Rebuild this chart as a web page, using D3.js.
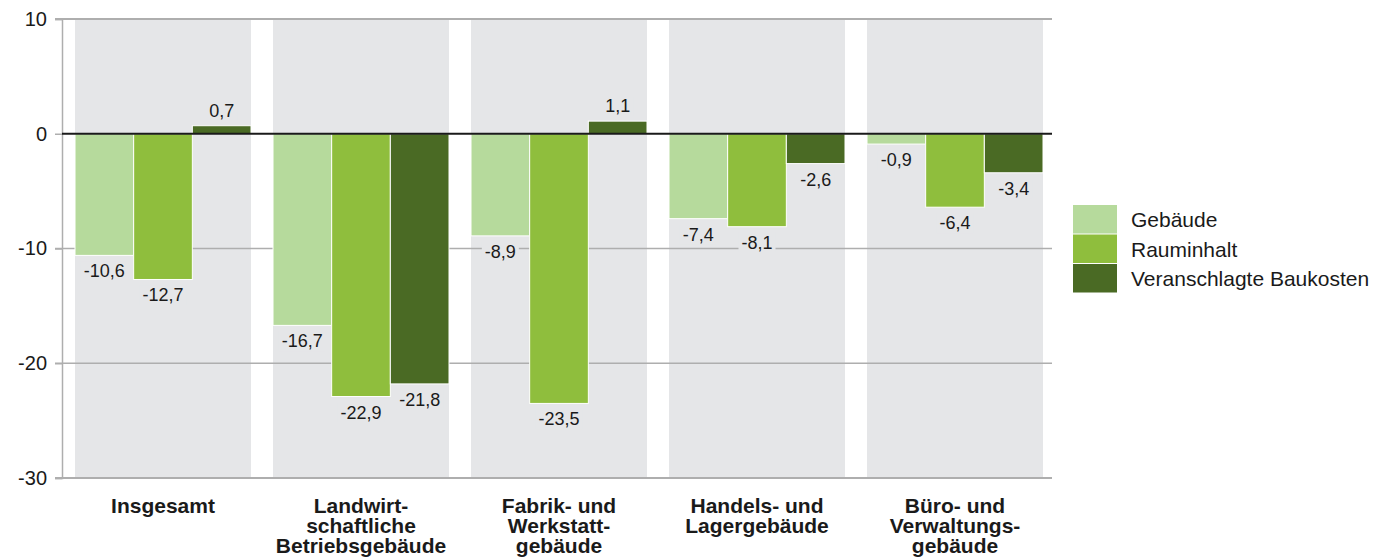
<!DOCTYPE html>
<html>
<head>
<meta charset="utf-8">
<script src="https://cdn.jsdelivr.net/npm/d3@7"></script>
<style>
  body { margin: 0; background: #fff; }
  svg { display: block; font-family: "Liberation Sans", Arial, Helvetica, sans-serif; }
</style>
</head>
<body>
<svg id="chart" width="1374" height="558"></svg>
<script>
// data
const categories = ['Insgesamt', 'Landwirtschaftliche Betriebsgebäude', 'Fabrik- und Werkstattgebäude', 'Handels- und Lagergebäude', 'Büro- und Verwaltungsgebäude']
const categoryLines = [
  ['Insgesamt'],
  ['Landwirt-', 'schaftliche', 'Betriebsgebäude'],
  ['Fabrik- und', 'Werkstatt-', 'gebäude'],
  ['Handels- und', 'Lagergebäude'],
  ['Büro- und', 'Verwaltungs-', 'gebäude']
]
const seriesNames = ['Gebäude', 'Rauminhalt', 'Veranschlagte Baukosten']
const gebaeude = [-10.6, -16.7, -8.9, -7.4, -0.9]
const rauminhalt = [-12.7, -22.9, -23.5, -8.1, -6.4]
const baukosten = [0.7, -21.8, 1.1, -2.6, -3.4]
const yTicks = [10, 0, -10, -20, -30]

const colors = ['#b6da9c', '#8fbe3d', '#4a6a24']
const bandColor = '#e5e6e8'
const gridColor = '#aeaeae'

const series = [gebaeude, rauminhalt, baukosten]

const svg = d3.select('#chart')

// scales
const y = d3.scaleLinear().domain([-30, 10]).range([478, 19])
const x0 = d3.scaleBand().domain(categories).range([75, 1043]).paddingInner(22 / 198)
const x1 = d3.scaleBand().domain(seriesNames).range([0, x0.bandwidth()])

const fmt = v => String(v.toFixed(1)).replace('.', ',')

// background bands
svg.append('g').selectAll('rect')
    .data(categories)
  .enter().append('rect')
    .attr('x', d => x0(d))
    .attr('y', y(10))
    .attr('width', x0.bandwidth())
    .attr('height', y(-30) - y(10))
    .attr('fill', bandColor)

// gridlines
svg.append('g').selectAll('line')
    .data(yTicks.filter(t => t !== 0))
  .enter().append('line')
    .attr('x1', 55)
    .attr('x2', 1052)
    .attr('y1', d => y(d))
    .attr('y2', d => y(d))
    .attr('stroke', gridColor)
    .attr('stroke-width', d => (d === 10 || d === -30) ? 2 : 1.5)

// y axis
const yAxis = d3.axisLeft(y).tickValues(yTicks).tickSize(7).tickPadding(8)
  .tickFormat(d => String(d))
const gy = svg.append('g')
    .attr('transform', 'translate(62,0)')
    .call(yAxis)
gy.select('.domain').attr('stroke', gridColor).attr('stroke-width', 1.5)
gy.selectAll('.tick line').attr('stroke', gridColor).attr('stroke-width', 1.5)
gy.selectAll('.tick text')
    .attr('font-size', 20)
    .attr('fill', '#1a1a1a')
    .attr('font-family', '"Liberation Sans", Arial, sans-serif')

// bars
const barData = []
categories.forEach((c, i) => {
  seriesNames.forEach((s, j) => {
    barData.push({ cat: c, ser: s, j: j, value: series[j][i] })
  })
})

svg.append('g').selectAll('rect')
    .data(barData)
  .enter().append('rect')
    .attr('x', d => x0(d.cat) + x1(d.ser))
    .attr('y', d => Math.min(y(d.value), y(0)))
    .attr('width', x1.bandwidth())
    .attr('height', d => Math.abs(y(d.value) - y(0)))
    .attr('fill', d => colors[d.j])
    .attr('stroke', '#fff')
    .attr('stroke-width', 1)

// zero line
svg.append('line')
    .attr('x1', 62)
    .attr('x2', 1052)
    .attr('y1', y(0))
    .attr('y2', y(0))
    .attr('stroke', '#1a1a1a')
    .attr('stroke-width', 2)

// value labels with background patches
const labels = svg.append('g').selectAll('g')
    .data(barData)
  .enter().append('g')

labels.append('text')
    .attr('x', d => x0(d.cat) + x1(d.ser) + x1.bandwidth() / 2)
    .attr('y', d => d.value >= 0 ? y(d.value) - 9 : y(d.value) + 22)
    .attr('text-anchor', 'middle')
    .attr('font-size', 18)
    .attr('fill', '#1a1a1a')
    .text(d => fmt(d.value))

labels.each(function () {
  const g = d3.select(this)
  const bb = g.select('text').node().getBBox()
  g.insert('rect', 'text')
      .attr('x', bb.x - 3)
      .attr('y', bb.y)
      .attr('width', bb.width + 6)
      .attr('height', bb.height)
      .attr('fill', bandColor)
})

// category labels
const cat = svg.append('g').selectAll('text')
    .data(categories)
  .enter().append('text')
    .attr('x', d => x0(d) + x0.bandwidth() / 2)
    .attr('y', 513)
    .attr('text-anchor', 'middle')
    .attr('font-size', 21)
    .attr('font-weight', 'bold')
    .attr('fill', '#1a1a1a')

cat.selectAll('tspan')
    .data((d, i) => categoryLines[i])
  .enter().append('tspan')
    .attr('x', function () { return d3.select(this.parentNode).attr('x') })
    .attr('dy', (d, i) => i === 0 ? 0 : 20)
    .text(d => d)

// legend
const legend = svg.append('g').selectAll('g')
    .data(seriesNames)
  .enter().append('g')
    .attr('transform', (d, i) => 'translate(1073,' + (205 + i * 29.5) + ')')

legend.append('rect')
    .attr('width', 44)
    .attr('height', 28.5)
    .attr('fill', (d, i) => colors[i])

legend.append('text')
    .attr('x', 58)
    .attr('y', 22)
    .attr('font-size', 21)
    .attr('fill', '#1a1a1a')
    .text(d => d)
</script>
</body>
</html>
